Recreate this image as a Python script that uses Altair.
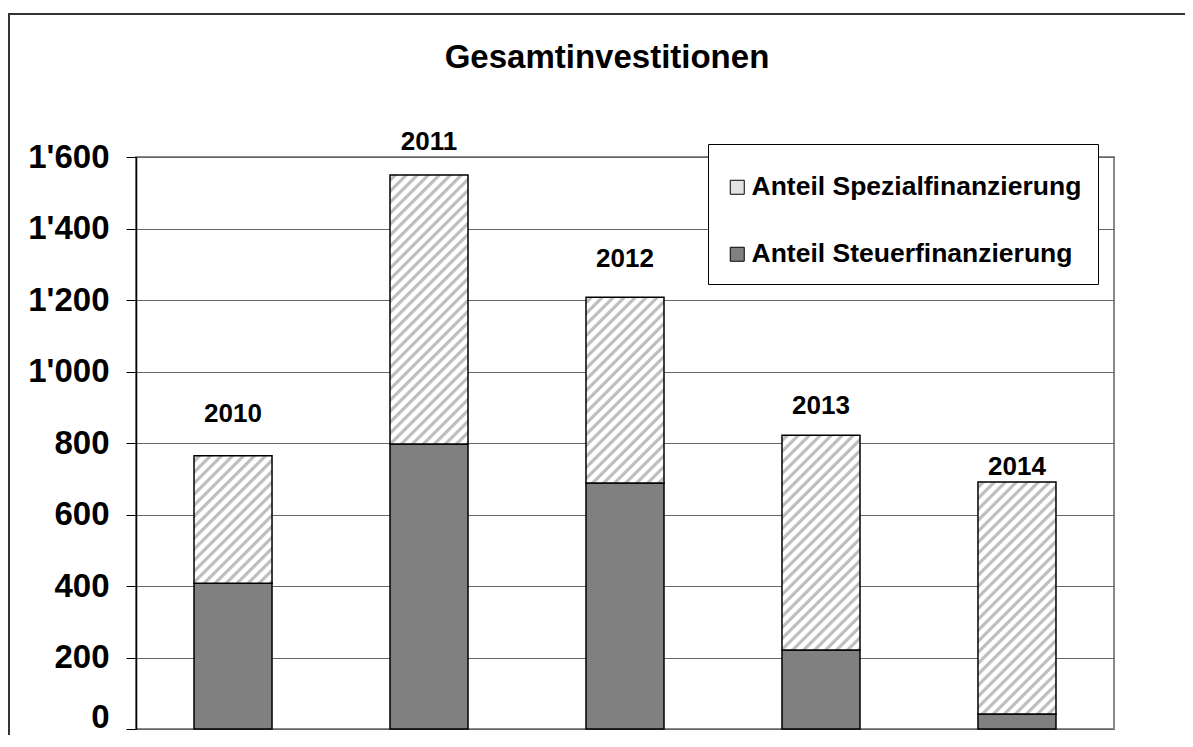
import altair as alt
import pandas as pd

# ---- data ----
years = ["2010", "2011", "2012", "2013", "2014"]
steuer = [408, 797, 688, 221, 42]          # Anteil Steuerfinanzierung
spezial = [356, 753, 520, 601, 649]        # Anteil Spezialfinanzierung
label_y = [859, 1620, 1292, 881, 710]      # where the year labels sit (data units)
series_names = ["Anteil Spezialfinanzierung", "Anteil Steuerfinanzierung"]
y_ticks = [0, 200, 400, 600, 800, 1000, 1200, 1400, 1600]

FONT = "Liberation Sans"
W, H = 978, 572
YMAX = 1600
BAR_W = 78

df = pd.DataFrame({
    "year": years,
    "steuer": steuer,
    "spezial": spezial,
    "label_y": label_y,
})
df["total"] = df["steuer"] + df["spezial"]
df["series"] = series_names[1]


def hatch(value):
    """Linear gradient with many stops that looks like '/' hatching."""
    h = value * H / YMAX
    w = BAR_W
    k = (1 / h + 1 / w) / (1 / h ** 2 + 1 / w ** 2)
    a, b = k / h, k / w
    period = 11.0
    n = (w + h) / period
    pattern = [(0.0, "#ffffff"), (0.22, "#ffffff"), (0.38, "#bdbdbd"),
               (0.62, "#bdbdbd"), (0.78, "#ffffff")]
    stops = []
    i = 0
    done = False
    while not done:
        for f, c in pattern:
            off = (i + f) / n
            if off > 1:
                done = True
                break
            stops.append({"offset": round(off, 5), "color": c})
        i += 1
    stops.append({"offset": 1, "color": "#ffffff"})
    return {"gradient": "linear", "x1": 0, "y1": 0, "x2": round(a, 5),
            "y2": round(b, 5), "stops": stops}


x_enc = alt.X("year:N", axis=None,
              scale=alt.Scale(paddingInner=0.602, paddingOuter=0.296))
y_scale = alt.Scale(domain=[0, YMAX], nice=False)
y_axis = alt.Axis(
    title=None, values=y_ticks,
    labelExpr="replace(format(datum.value, ','), ',', \"'\")",
    labelOffset={"condition": {"test": "datum.value === 0", "value": -12},
                 "value": 0},
)

frame = alt.Chart(pd.DataFrame({"a": [0]})).mark_rect(
    filled=False, stroke="#333333", strokeWidth=2
).encode(
    x=alt.value(-127), y=alt.value(-143), x2=alt.value(1300), y2=alt.value(900)
)

steuer_bars = alt.Chart(df).mark_bar(stroke="black", strokeWidth=1.5).encode(
    x=x_enc,
    y=alt.Y("steuer:Q", scale=y_scale, axis=y_axis),
    color=alt.Color(
        "series:N",
        scale=alt.Scale(domain=series_names, range=["#e2e2e2", "#808080"]),
        legend=alt.Legend(
            title=" ", titleFontSize=8, titlePadding=6,
            orient="none", legendX=572, legendY=-13,
            strokeColor="black", fillColor="white", padding=16, rowPadding=40,
            labelFontSize=26.5, labelFont=FONT, labelFontWeight="bold",
            labelColor="black", labelLimit=600, labelOffset=1,
            symbolType="square", symbolSize=196, symbolStrokeColor="black",
            symbolStrokeWidth=1,
        ),
    ),
)

spezial_layers = []
for yr, sp in zip(years, spezial):
    spezial_layers.append(
        alt.Chart(df).transform_filter(alt.datum.year == yr).mark_bar(
            fill=hatch(sp), stroke="black", strokeWidth=1.5
        ).encode(
            x=x_enc,
            y=alt.Y("steuer:Q", scale=y_scale, axis=y_axis),
            y2="total:Q",
        )
    )

labels = alt.Chart(df).mark_text(
    font=FONT, fontSize=26, fontWeight="bold", baseline="alphabetic",
    color="black"
).encode(
    x=x_enc,
    y=alt.Y("label_y:Q", scale=y_scale, axis=y_axis),
    text="year:N",
)

chart = alt.layer(frame, steuer_bars, *spezial_layers, labels).properties(
    width=W, height=H,
    padding={"left": 128, "top": 149, "right": 71, "bottom": 6},
    autosize=alt.AutoSizeParams(type="none"),
    title=alt.TitleParams(
        "Gesamtinvestitionen", font=FONT, fontSize=33, fontWeight="bold",
        color="black", anchor="middle", frame="group", dx=-18, offset=-88,
        baseline="alphabetic",
    ),
).configure_view(
    stroke="#8a8a8a", strokeWidth=2
).configure_axisY(
    labelFont=FONT, labelFontSize=33, labelFontWeight="bold",
    labelColor="black", labelPadding=17, tickSize=10, tickColor="black",
    domainColor="black", domainWidth=1.5, gridColor="#666666", gridWidth=1,
)

chart.save("out.html", embed_options={"renderer": "svg", "actions": False})
